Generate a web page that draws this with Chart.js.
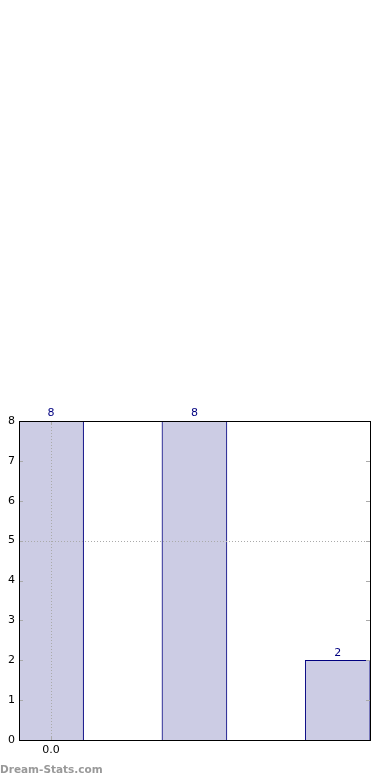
<!DOCTYPE html>
<html><head><meta charset="utf-8">
<script src="https://cdn.jsdelivr.net/npm/chart.js@4/dist/chart.umd.min.js"></script>
<style>html,body{margin:0;padding:0;background:#fff;}#wrap{width:390px;height:780px;position:relative;}</style>
</head><body><div id="wrap"><canvas id="c" width="390" height="780"></canvas></div>
<script>
const binPositions = [0, 1, 2];
const counts = [8, 8, 2];
const yTicks = [0, 1, 2, 3, 4, 5, 6, 7, 8];
const xTicks = [0];

const framePlugin = {
  id: 'frame',
  afterDatasetsDraw(chart) {
    const {ctx, chartArea: a, scales: {x, y}} = chart;
    ctx.save();
    ctx.strokeStyle = '#aaaaaa';
    ctx.lineWidth = 1;
    ctx.setLineDash([1, 2]);
    const gy = Math.round(y.getPixelForValue(5)) + 0.5;
    ctx.beginPath(); ctx.moveTo(a.left, gy); ctx.lineTo(a.right, gy); ctx.stroke();
    xTicks.forEach(v => {
      const gx = Math.round(x.getPixelForValue(v)) + 0.5;
      ctx.beginPath(); ctx.moveTo(gx, a.top); ctx.lineTo(gx, a.bottom); ctx.stroke();
    });
    ctx.setLineDash([]);
    ctx.strokeStyle = '#aaaaaa';
    yTicks.forEach(v => {
      const py = Math.round(y.getPixelForValue(v)) + 0.5;
      ctx.beginPath(); ctx.moveTo(a.left, py); ctx.lineTo(a.left + 4, py); ctx.stroke();
      ctx.beginPath(); ctx.moveTo(a.right, py); ctx.lineTo(a.right - 4, py); ctx.stroke();
    });
    xTicks.forEach(v => {
      const px = Math.round(x.getPixelForValue(v)) + 0.5;
      ctx.beginPath(); ctx.moveTo(px, a.bottom); ctx.lineTo(px, a.bottom - 4); ctx.stroke();
      ctx.beginPath(); ctx.moveTo(px, a.top); ctx.lineTo(px, a.top + 4); ctx.stroke();
    });
    ctx.strokeStyle = '#000000';
    ctx.strokeRect(Math.round(a.left) + 0.5, Math.round(a.top) + 0.5, Math.round(a.right - a.left), Math.round(a.bottom - a.top));
    ctx.fillStyle = '#000080';
    ctx.font = '11px "DejaVu Sans"';
    ctx.textAlign = 'center';
    ctx.textBaseline = 'bottom';
    const meta = chart.getDatasetMeta(0);
    meta.data.forEach((bar, i) => {
      ctx.fillText(String(counts[i]), bar.x, bar.y - 2);
    });
    ctx.fillStyle = '#999999';
    ctx.font = 'bold 10.5px "DejaVu Sans"';
    ctx.textAlign = 'left';
    ctx.textBaseline = 'middle';
    ctx.fillText('Dream-Stats.com', 0, 770);
    ctx.restore();
  }
};

new Chart(document.getElementById('c'), {
  type: 'bar',
  data: {
    datasets: [{
      data: binPositions.map((p, i) => ({x: p, y: counts[i]})),
      backgroundColor: 'rgb(204,204,228)',
      borderColor: '#000080',
      borderWidth: 1,
      borderSkipped: 'bottom',
      barThickness: 65
    }]
  },
  options: {
    responsive: false,
    animation: false,
    events: [],
    layout: {padding: {top: 421, right: 20, left: 0, bottom: 0}},
    plugins: {legend: {display: false}, tooltip: {enabled: false}},
    scales: {
      x: {
        type: 'linear',
        offset: false,
        min: -0.224,
        max: 2.225,
        afterBuildTicks: s => { s.ticks = xTicks.map(v => ({value: v})); },
        afterFit: s => { s.height = 40; },
        grid: {display: false, drawTicks: false, offset: false},
        border: {display: false},
        ticks: {color: '#000', font: {family: 'DejaVu Sans', size: 11}, padding: 4, callback: v => Number(v).toFixed(1)}
      },
      y: {
        min: 0, max: 8,
        afterBuildTicks: s => { s.ticks = yTicks.map(v => ({value: v})); },
        afterFit: s => { s.width = 19; },
        grid: {display: false, drawTicks: false},
        border: {display: false},
        ticks: {color: '#000', font: {family: 'DejaVu Sans', size: 11}, padding: 4}
      }
    }
  },
  plugins: [framePlugin]
});
</script></body></html>
